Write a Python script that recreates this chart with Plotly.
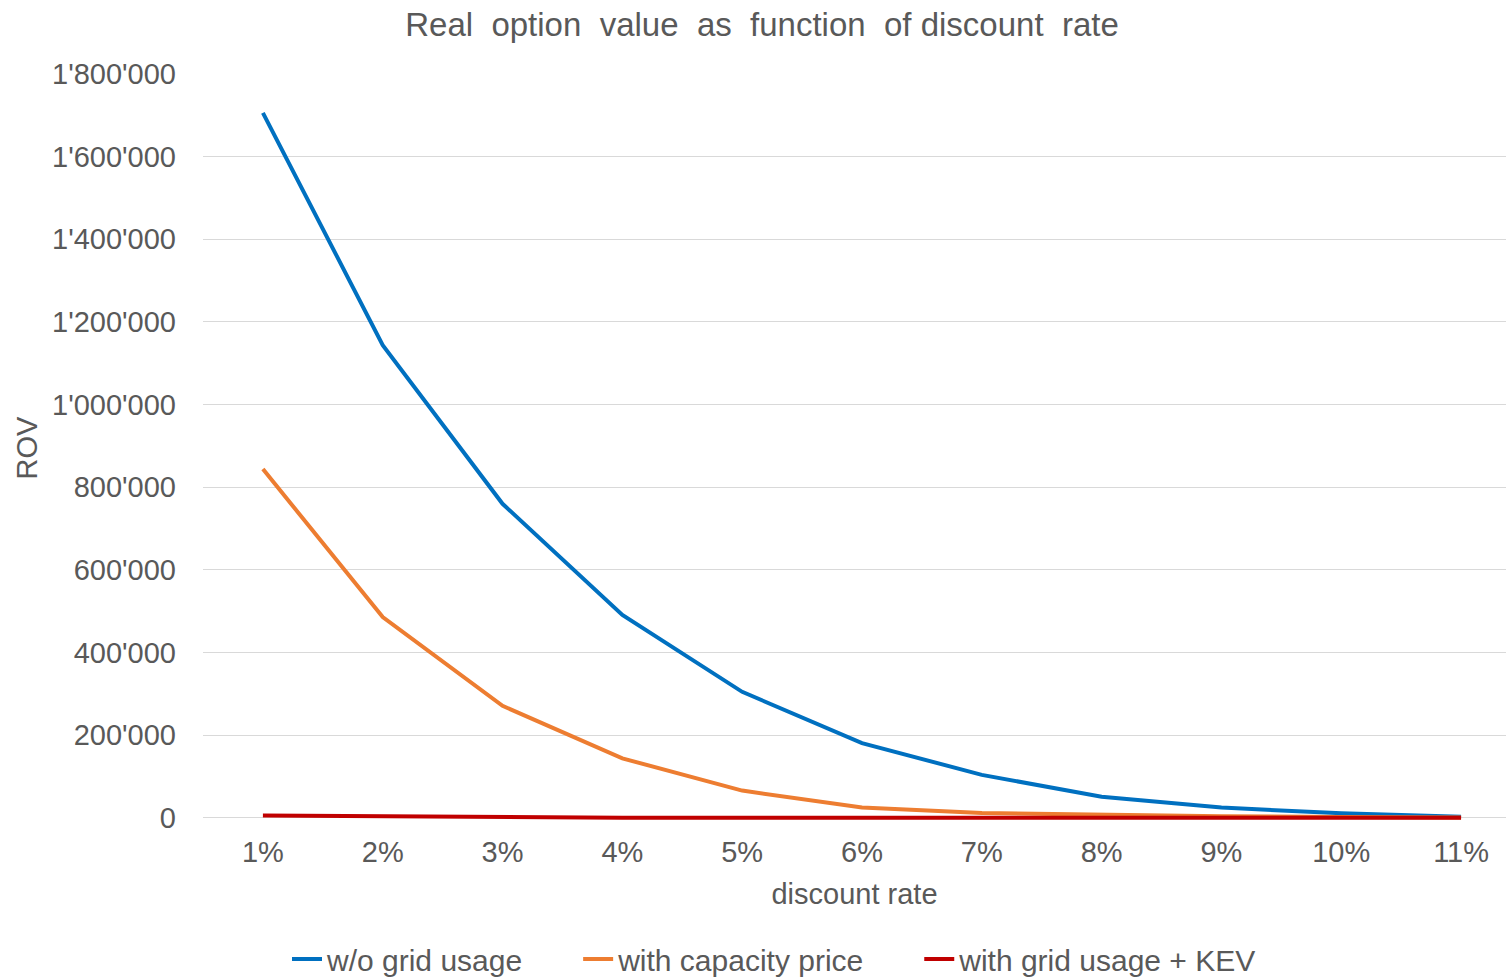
import plotly.graph_objects as go

# Discount rates (categories) and real option values for each scenario
discount_rates = ["1%", "2%", "3%", "4%", "5%", "6%", "7%", "8%", "9%", "10%", "11%"]
rov_without_grid = [1706000, 1144000, 760000, 491000, 305000, 181000, 104000, 51000, 25000, 11000, 3000]
rov_capacity_price = [844000, 486000, 271000, 144000, 66000, 25000, 12000, 7000, 4000, 2000, 1000]
rov_grid_kev = [6000, 4000, 1000, 500, 300, 200, 100, 100, 0, 0, 0]

series_names = ["w/o grid usage", "with capacity price", "with grid usage + KEV"]
series_colors = ["#0070C0", "#ED7D31", "#C00000"]
y_ticks = [0, 200000, 400000, 600000, 800000, 1000000, 1200000, 1400000, 1600000, 1800000]

FONT = "Liberation Sans, Arial, sans-serif"
TEXT = "#595959"
GAP = "\u00a0" * 6  # spacing after each legend entry

fig = go.Figure()
for name, values, color in zip(series_names,
                               [rov_without_grid, rov_capacity_price, rov_grid_kev],
                               series_colors):
    fig.add_trace(go.Scatter(
        x=discount_rates, y=values, name=name + GAP, mode="lines",
        line=dict(color=color, width=4),
    ))

fig.update_layout(
    width=1506, height=977,
    paper_bgcolor="white", plot_bgcolor="white",
    margin=dict(l=203, r=0, t=74, b=155),
    separators=".'",
    font=dict(family=FONT, size=29, color=TEXT),
    title=dict(
        text="Real \u00a0option \u00a0value \u00a0as \u00a0function \u00a0of discount \u00a0rate",
        x=762 / 1506, xanchor="center", xref="container",
        y=1 - 24 / 977, yanchor="middle", yref="container",
        font=dict(family=FONT, size=33, color=TEXT),
    ),
    showlegend=True,
    legend=dict(
        orientation="h", xref="container", x=799.5 / 1506, xanchor="center",
        yref="container", y=1 - 959 / 977, yanchor="middle",
        font=dict(family=FONT, size=30, color=TEXT),
        itemwidth=30, tracegroupgap=0,
    ),
)

fig.update_xaxes(
    type="category",
    range=[-0.5, 10.375],
    showgrid=False, zeroline=False, showline=False,
    ticks="", ticklabelstandoff=10,
    tickfont=dict(family=FONT, size=29, color=TEXT),
    title=dict(text="discount rate", standoff=16,
               font=dict(family=FONT, size=29, color=TEXT)),
)

fig.update_yaxes(
    range=[-10000, 1800000],
    tickvals=y_ticks, tickformat=",d",
    showgrid=True, gridcolor="#D9D9D9", gridwidth=1,
    zeroline=False, showline=False,
    ticks="", ticklabelstandoff=26,
    tickfont=dict(family=FONT, size=29, color=TEXT),
    title=dict(text="ROV", standoff=5,
               font=dict(family=FONT, size=29, color=TEXT)),
)

fig.write_html("out.html")
